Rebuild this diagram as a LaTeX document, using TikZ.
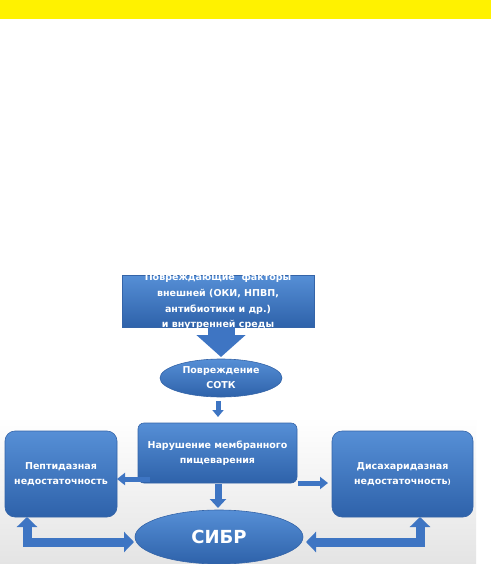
\documentclass[tikz,border=0pt]{standalone}
\usepackage{fontspec}
\setmainfont{DejaVu Sans}
\usetikzlibrary{shapes.geometric,arrows.meta}
\definecolor{boxtop}{RGB}{86,143,214}
\definecolor{boxbot}{RGB}{46,98,170}
\definecolor{arrowblue}{RGB}{62,117,195}
\definecolor{edgeblue}{RGB}{52,100,168}
\tikzset{
  blue fill/.style={top color=boxtop, bottom color=boxbot, draw=edgeblue, line width=0.6pt},
  txt/.style={text=white, font=\bfseries\fontsize{9.5}{15}\selectfont, align=center, inner sep=0pt},
  rbox/.style={blue fill, rectangle, rounded corners=#1, inner sep=0pt},
  ell/.style={blue fill, ellipse, inner sep=0pt},
  barrow/.style={draw=arrowblue, line width=#1, line join=miter},
}
\begin{document}
\begin{tikzpicture}[x=1pt,y=-1pt]
\useasboundingbox (0,0) rectangle (491,564);
% background
\fill[white] (0,0) rectangle (491,564);
\shade[top color=white, bottom color={rgb,255:red,228;green,228;blue,228}] (0,417) rectangle (476,564);
\fill[yellow] (0,0) rectangle (491,19);
% nodes
\node[rbox=0pt, minimum width=192pt, minimum height=52pt] (top) at (218,301) {};
\node[ell, minimum width=122pt, minimum height=38pt] (sotk) at (221,378) {};
\node[rbox=6pt, minimum width=159pt, minimum height=60pt] (mid) at (217.5,453) {};
\node[rbox=10pt, minimum width=112pt, minimum height=86pt] (left) at (61,474) {};
\node[rbox=10pt, minimum width=141pt, minimum height=86pt] (right) at (402.5,474) {};
\node[ell, minimum width=168pt, minimum height=54pt] (sibr) at (219,537) {};
% texts
\node[txt] (t1) at (218,278) {Повреждающие\ \ факторы};
\node[txt] (t2) at (218,294) {внешней (ОКИ, НПВП,};
\node[txt] (t3) at (218,310) {антибиотики и др.)};
\node[txt] (t4) at (218,325) {и внутренней среды};
\node[txt] (tsotk) at (sotk.center) {Повреждение\\СОТК};
\node[txt] (tmid) at (mid.center) {Нарушение мембранного\\пищеварения};
\node[txt] (tleft) at (left.center) {Пептидазная\\недостаточность};
\node[txt] (tright) at (right.center) {Дисахаридазная\\недостаточность{\fontsize{7}{7}\selectfont)}};
\node[text=white, font=\bfseries\fontsize{18}{20}\selectfont, inner sep=0pt] (tsibr) at (sibr.center) {СИБР};
% arrows
\coordinate (bigstart) at (221,327);
\coordinate (bigtip) at (221,357);
\draw[barrow=27pt, -{Triangle[width=48pt,length=22pt]}] (bigstart) -- (bigtip);
\coordinate (s1) at (218,401);
\coordinate (s2) at (218,417);
\draw[barrow=5pt, -{Triangle[width=11pt,length=7pt]}] (s1) -- (s2);
\coordinate (d1) at (218,484);
\coordinate (d2) at (218,508);
\draw[barrow=7pt, -{Triangle[width=16pt,length=9pt]}] (d1) -- (d2);
\coordinate (l1) at (150,479);
\coordinate (l2) at (117,479);
\draw[barrow=5pt, -{Triangle[width=12pt,length=8pt]}] (l1) -- (l2);
\coordinate (r1) at (298,483);
\coordinate (r2) at (328,483);
\draw[barrow=5pt, -{Triangle[width=12pt,length=8pt]}] (r1) -- (r2);
\coordinate (lb) at (27,517);
\coordinate (lt) at (134,542);
\draw[barrow=9pt, {Triangle[width=20pt,length=10pt]}-{Triangle[width=20pt,length=10pt]}] (lb) |- (lt);
\coordinate (rb) at (420,517);
\coordinate (rt) at (306,542);
\draw[barrow=9pt, {Triangle[width=20pt,length=10pt]}-{Triangle[width=20pt,length=10pt]}] (rb) |- (rt);
\end{tikzpicture}
\end{document}
